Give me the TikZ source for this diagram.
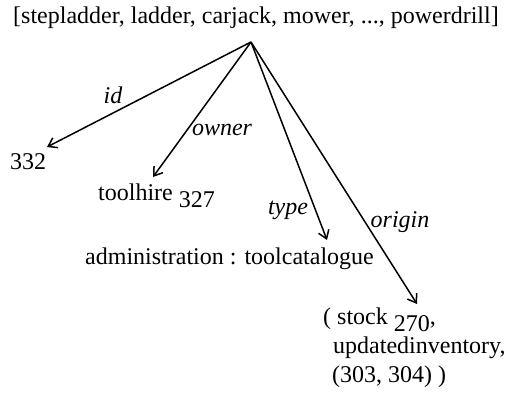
\documentclass[tikz,border=0pt]{standalone}
\usepackage{fontspec}
\setmainfont{Liberation Serif}
\usetikzlibrary{arrows.meta}
\begin{document}
\begin{tikzpicture}[x=1pt,y=1pt,
  txt/.style={inner sep=0pt, font=\fontsize{24}{29}\selectfont},
  lbl/.style={inner sep=0pt, font=\fontsize{24}{29}\selectfont\itshape},
  edge/.style={line width=1.5pt, -{Straight Barb[length=8pt,width=11pt,line width=1.5pt]}}]
\useasboundingbox (0,0) rectangle (511,392);
% list of tools and the point the attribute edges leave from
\node[txt, anchor=base] (list) at (256,368) {[stepladder, ladder, carjack, mower, ..., powerdrill]};
\coordinate (root) at (251,350);
% attribute values
\node[txt, anchor=base west] (v332) at (10,223) {332};
\node[txt, anchor=base west] (vowner) at (98,192) {toolhire \raisebox{-7pt}{327}};
\node[txt, anchor=base west] (vtype) at (85,128) {administration : toolcatalogue};
\node[txt, anchor=north west, align=left] (vorigin) at (323,84)
  {( stock \raisebox{-7pt}{270},\\\hspace*{10pt}updatedinventory,\\\hspace*{9pt}(303, 304) )};
% edge end points
\coordinate (tid) at (47,245);
\coordinate (towner) at (153,215);
\coordinate (ttype) at (327,152);
\coordinate (torigin) at (417,88);
\draw[edge] (root) -- (tid);
\draw[edge] (root) -- (towner);
\draw[edge] (root) -- (ttype);
\draw[edge] (root) -- (torigin);
% edge labels
\node[lbl] (lid) at (113,297) {id};
\node[lbl] (lowner) at (222,262) {owner};
\node[lbl] (ltype) at (288,182) {type};
\node[lbl] (lorigin) at (400,170) {origin};
\end{tikzpicture}
\end{document}
